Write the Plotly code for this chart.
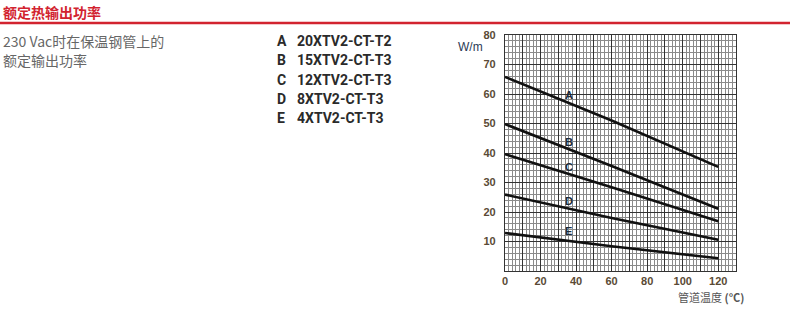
import plotly.graph_objects as go

# ---- data ----
temps = [0, 60, 120]
series_names = ["A", "B", "C", "D", "E"]
series_products = ["20XTV2-CT-T2", "15XTV2-CT-T3", "12XTV2-CT-T3", "8XTV2-CT-T3", "4XTV2-CT-T3"]
vals_A = [65.8, 51.0, 35.3]
vals_B = [49.8, 35.6, 21.1]
vals_C = [39.6, 28.4, 16.9]
vals_D = [25.9, 18.0, 10.6]
vals_E = [12.9, 8.4, 4.3]
label_x = 36
label_y = [59.8, 43.6, 35.4, 23.7, 13.5]
x_ticks = [0, 10, 20, 30, 40, 50, 60, 70, 80, 90, 100, 110, 120, 130]
x_ticktext = ["0", "", "20", "", "40", "", "60", "", "80", "", "100", "", "120", ""]
y_ticks = [0, 10, 20, 30, 40, 50, 60, 70, 80]
y_ticktext = ["", "10", "20", "30", "40", "50", "60", "70", "80"]

title = "额定热输出功率"
desc1 = "230 Vac时在保温钢管上的"
desc2 = "额定输出功率"
y_title = "W/m"
x_title = "管道温度 <b>(°C)</b>"

W, H = 790, 311
L, R, T, B = 505, 54, 35, 40
PW, PH = W - L - R, H - T - B


def px(p):
    return (p - L) / PW


def py(q):
    return (H - B - q) / PH


fig = go.Figure()
for name, vals in zip(series_names, [vals_A, vals_B, vals_C, vals_D, vals_E]):
    fig.add_trace(go.Scatter(x=temps, y=vals, mode="lines", name=name,
                             line=dict(color="#111111", width=2.6), showlegend=False))

annotations = []
for name, ly in zip(series_names, label_y):
    annotations.append(dict(x=label_x, y=ly, xref="x", yref="y", text="<b>" + name + "</b>",
                            showarrow=False, font=dict(family="Liberation Sans", size=11, color="#1a2a3a")))

# header texts
annotations.append(dict(x=px(1), y=py(12), xref="paper", yref="paper", text="<b>" + title + "</b>",
                        showarrow=False, xanchor="left", yanchor="middle",
                        font=dict(family="Noto Sans CJK SC", size=14, color="#d2232f")))
annotations.append(dict(x=px(1), y=py(41), xref="paper", yref="paper", text=desc1,
                        showarrow=False, xanchor="left", yanchor="middle",
                        font=dict(family="Noto Sans CJK SC", size=14, color="#666666")))
annotations.append(dict(x=px(1), y=py(60), xref="paper", yref="paper", text=desc2,
                        showarrow=False, xanchor="left", yanchor="middle",
                        font=dict(family="Noto Sans CJK SC", size=14, color="#666666")))
for i, (n, p) in enumerate(zip(series_names, series_products)):
    yy = 40.5 + i * 19.5
    annotations.append(dict(x=px(275), y=py(yy), xref="paper", yref="paper", text="<b>" + n + "</b>",
                            showarrow=False, xanchor="left", yanchor="middle",
                            font=dict(family="Roboto", size=14, color="#2a2a2a")))
    annotations.append(dict(x=px(295), y=py(yy), xref="paper", yref="paper", text="<b>" + p + "</b>",
                            showarrow=False, xanchor="left", yanchor="middle",
                            font=dict(family="Roboto", size=14, color="#2a2a2a")))

annotations.append(dict(x=px(485), y=py(47), xref="paper", yref="paper", text=y_title,
                        showarrow=False, xanchor="right", yanchor="middle",
                        font=dict(family="Liberation Sans", size=12, color="#2a3a55")))
annotations.append(dict(x=px(746), y=py(297), xref="paper", yref="paper", text=x_title,
                        showarrow=False, xanchor="right", yanchor="middle",
                        font=dict(family="Noto Sans CJK SC", size=11, color="#555555")))

tick_font = dict(family="Liberation Sans", size=11, color="#5a4a35", weight="bold")

fig.update_layout(
    width=W, height=H,
    margin=dict(l=L, r=R, t=T, b=B, pad=0),
    paper_bgcolor="white", plot_bgcolor="white",
    annotations=annotations,
    shapes=[dict(type="line", xref="paper", yref="paper", x0=px(0), x1=px(W), y0=py(23), y1=py(23),
                 line=dict(color="#d2232f", width=2.5))],
    xaxis=dict(range=[0, 130], tickvals=x_ticks, ticktext=x_ticktext, showgrid=True,
               gridcolor="#333333", gridwidth=1.2, zeroline=False, showline=True, mirror=True,
               linecolor="#333333", linewidth=1.2, ticks="", ticklabelstandoff=0,
               tickfont=tick_font,
               minor=dict(dtick=2, tick0=0, showgrid=True, gridcolor="#8a8a8a", gridwidth=0.8)),
    yaxis=dict(range=[0, 80], tickvals=y_ticks, ticktext=y_ticktext, showgrid=True,
               gridcolor="#333333", gridwidth=1.2, zeroline=False, showline=True, mirror=True,
               linecolor="#333333", linewidth=1.2, ticks="", ticklabelstandoff=6,
               tickfont=tick_font,
               minor=dict(dtick=2, tick0=0, showgrid=True, gridcolor="#8a8a8a", gridwidth=0.8)),
)

fig.write_html("out.html")
